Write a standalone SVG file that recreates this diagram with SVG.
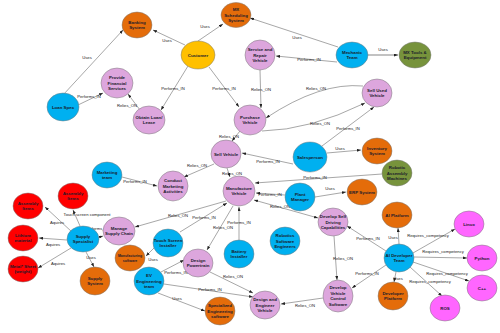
<svg xmlns="http://www.w3.org/2000/svg" width="500" height="333" viewBox="0 0 500 333">
<style>
.n ellipse{stroke:#7a7a7a;stroke-width:0.5}
.pk{fill:#DDA6DD}.bl{fill:#00B0F0}.or{fill:#E46C0A}.ye{fill:#FFC000}.gr{fill:#77933C}.rd{fill:#FF0000}.mg{fill:#FF66FF}
.n text{font-family:"Liberation Sans",Arial,sans-serif;font-size:4.4px;font-weight:bold;fill:#1a1a2a;text-anchor:middle}
.e line,.e path{stroke:#3a3a3a;stroke-width:0.45;fill:none;marker-end:url(#ah)}
.l text{font-family:"Liberation Sans",Arial,sans-serif;font-size:4.2px;fill:#222;text-anchor:middle}
</style>
<defs>
<marker id="ah" markerUnits="userSpaceOnUse" markerWidth="4" markerHeight="3" refX="4" refY="1.5" orient="auto-start-reverse"><path d="M0,0 L4,1.5 L0,3 z" fill="#222"/></marker>
</defs>
<rect width="500" height="333" fill="#fff"/>
<g id="connectors">
<g class="e">
<line x1="63" y1="95" x2="123" y2="30"/>
<line x1="78" y1="105" x2="103" y2="93"/>
<line x1="140" y1="110" x2="128" y2="94"/>
<line x1="185" y1="45" x2="153" y2="30"/>
<line x1="198" y1="41" x2="223" y2="24"/>
<line x1="188" y1="66" x2="161" y2="110"/>
<line x1="209" y1="67" x2="239" y2="107"/>
<line x1="260" y1="70" x2="261" y2="108"/>
<line x1="338" y1="47" x2="250" y2="18"/>
<line x1="337" y1="62" x2="276" y2="56"/>
<line x1="368" y1="55" x2="398" y2="55" style="stroke:#a8a8a8;stroke-width:1.4"/>
<path d="M363,86 Q320,82 266,118"/>
<path d="M262,131 Q310,130 365,103"/>
<line x1="322" y1="146" x2="374" y2="107"/>
<line x1="327" y1="153" x2="361" y2="150"/>
<line x1="240" y1="131" x2="232" y2="141"/>
<line x1="293" y1="164" x2="242" y2="153"/>
<line x1="214" y1="164" x2="184" y2="177"/>
<line x1="227" y1="168" x2="230" y2="177"/>
<line x1="122" y1="177" x2="157" y2="186"/>
<line x1="382" y1="174" x2="255" y2="183"/>
<line x1="285" y1="195" x2="256" y2="193"/>
<line x1="315" y1="197" x2="346" y2="192"/>
<line x1="254" y1="200" x2="318" y2="218" style="marker-start:url(#ah)"/>
<line x1="226" y1="201" x2="135" y2="227"/>
<line x1="180" y1="232" x2="227" y2="203"/>
<line x1="233" y1="206" x2="207" y2="250"/>
<line x1="239" y1="240" x2="239" y2="207"/>
<line x1="97" y1="238" x2="103" y2="236"/>
<line x1="80" y1="226" x2="73" y2="210"/>
<line x1="72" y1="232" x2="45" y2="207"/>
<line x1="67" y1="240" x2="39" y2="238"/>
<line x1="71" y1="248" x2="38" y2="268"/>
<line x1="86" y1="252" x2="94" y2="267"/>
<line x1="155" y1="247" x2="146" y2="256"/>
<line x1="161" y1="272" x2="184" y2="260"/>
<line x1="164" y1="284" x2="253" y2="297"/>
<line x1="158" y1="293" x2="205" y2="311"/>
<line x1="210" y1="272" x2="253" y2="293"/>
<line x1="323" y1="298" x2="281" y2="304"/>
<line x1="334" y1="236" x2="337" y2="280"/>
<line x1="386" y1="251" x2="347" y2="226"/>
<line x1="386" y1="265" x2="352" y2="288"/>
<line x1="399" y1="244" x2="398" y2="228"/>
<line x1="396" y1="272" x2="394" y2="282"/>
<line x1="413" y1="253" x2="455" y2="229"/>
<line x1="414" y1="257" x2="467" y2="258"/>
<line x1="413" y1="262" x2="469" y2="281"/>
<line x1="410" y1="267" x2="442" y2="296"/>
</g>
<g class="l">
<text x="87" y="58.5">Uses</text>
<text x="89" y="97.5">Performs_IN</text>
<text x="127" y="106.5">Relies_ON</text>
<text x="167" y="41.5">Uses</text>
<text x="205" y="27.5">Uses</text>
<text x="173" y="89.5">Performs_IN</text>
<text x="224" y="89.5">Performs_IN</text>
<text x="261" y="90.5">Relies_ON</text>
<text x="297" y="38.5">Uses</text>
<text x="309" y="60.5">Performs_IN</text>
<text x="383" y="51">Uses</text>
<text x="316" y="89.5">Relies_ON</text>
<text x="320" y="124.5">Relies_ON</text>
<text x="348" y="129.5">Performs_IN</text>
<text x="340" y="150">Uses</text>
<text x="229" y="137.5">Relies_ON</text>
<text x="268" y="162.5">Performs_IN</text>
<text x="197" y="166.5">Relies_ON</text>
<text x="232" y="174.5">Relies_ON</text>
<text x="135" y="182.5">Performs_IN</text>
<text x="315" y="178.5">Performs_IN</text>
<text x="270" y="195.5">Performs_IN</text>
<text x="330" y="190">Uses</text>
<text x="280" y="207.5">Relies_ON</text>
<text x="178" y="216.5">Relies_ON</text>
<text x="204" y="218.5">Performs_IN</text>
<text x="223" y="228.5">Relies_ON</text>
<text x="239" y="223.5">Performs_IN</text>
<text x="97" y="229.5">Performs_IN</text>
<text x="87" y="215.5">Touch screen component</text>
<text x="57" y="223.5">Aquires</text>
<text x="53" y="245.5">Aquires</text>
<text x="58" y="264.5">Aquires</text>
<text x="91" y="258.5">Uses</text>
<text x="153" y="260.5">Uses</text>
<text x="176" y="273.5">Performs_IN</text>
<text x="210" y="290.5">Performs_IN</text>
<text x="177" y="299.5">Uses</text>
<text x="233" y="277.5">Relies_ON</text>
<text x="305" y="306.5">Relies_ON</text>
<text x="343" y="259.5">Relies_ON</text>
<text x="368" y="239.5">Performs_IN</text>
<text x="367" y="274.5">Performs_IN</text>
<text x="393" y="238.5">Uses</text>
<text x="398" y="279.5">Uses</text>
<text x="428" y="236.5">Requires_competency</text>
<text x="443" y="252.5">Requires_competency</text>
<text x="447" y="274.5">Requires_competency</text>
<text x="430" y="282.5">Requires_competency</text>
</g>
</g>
<g id="n-banking" class="n"><ellipse class="or" cx="137" cy="25" rx="15" ry="13"/><text x="137" y="23.8">Banking<tspan x="137" dy="5.6">System</tspan></text></g>
<g id="n-mxsched" class="n"><ellipse class="or" cx="236" cy="15" rx="15" ry="12.5"/><text x="236" y="11">MX<tspan x="236" dy="5.6">Scheduling</tspan><tspan x="236" dy="5.6">System</tspan></text></g>
<g id="n-customer" class="n"><ellipse class="ye" cx="198" cy="55" rx="17" ry="14"/><text x="198" y="56.6">Customer</text></g>
<g id="n-service" class="n"><ellipse class="pk" cx="260" cy="55" rx="15" ry="15"/><text x="260" y="51">Service and<tspan x="260" dy="5.6">Repair</tspan><tspan x="260" dy="5.6">Vehicle</tspan></text></g>
<g id="n-mechanic" class="n"><ellipse class="bl" cx="352" cy="55" rx="16" ry="13"/><text x="352" y="53.8">Mechanic<tspan x="352" dy="5.6">Team</tspan></text></g>
<g id="n-mxtools" class="n"><ellipse class="gr" cx="415" cy="55" rx="16" ry="13"/><text x="415" y="53.8">MX Tools &amp;<tspan x="415" dy="5.6">Equipment</tspan></text></g>
<g id="n-provide" class="n"><ellipse class="pk" cx="117" cy="83" rx="16" ry="15"/><text x="117" y="79">Provide<tspan x="117" dy="5.6">Financial</tspan><tspan x="117" dy="5.6">Services</tspan></text></g>
<g id="n-loanspec" class="n"><ellipse class="bl" cx="63" cy="107" rx="16" ry="14"/><text x="63" y="108.6">Loan Spec</text></g>
<g id="n-obtain" class="n"><ellipse class="pk" cx="149" cy="120" rx="16" ry="14"/><text x="149" y="118.8">Obtain Loan/<tspan x="149" dy="5.6">Lease</tspan></text></g>
<g id="n-purchase" class="n"><ellipse class="pk" cx="250" cy="120" rx="16" ry="15"/><text x="250" y="118.8">Purchase<tspan x="250" dy="5.6">Vehicle</tspan></text></g>
<g id="n-sellused" class="n"><ellipse class="pk" cx="377" cy="93" rx="15" ry="14"/><text x="377" y="91.8">Sell Used<tspan x="377" dy="5.6">Vehicle</tspan></text></g>
<g id="n-sell" class="n"><ellipse class="pk" cx="226" cy="154" rx="15" ry="14"/><text x="226" y="155.6">Sell Vehicle</text></g>
<g id="n-salesperson" class="n"><ellipse class="bl" cx="310" cy="157" rx="17" ry="15"/><text x="310" y="158.6">Salesperson</text></g>
<g id="n-inventory" class="n"><ellipse class="or" cx="377" cy="151" rx="15" ry="13"/><text x="377" y="149.8">Inventory<tspan x="377" dy="5.6">System</tspan></text></g>
<g id="n-robotic" class="n"><ellipse class="gr" cx="397" cy="173" rx="15" ry="13"/><text x="397" y="169">Robotic<tspan x="397" dy="5.6">Assembly</tspan><tspan x="397" dy="5.6">Machines</tspan></text></g>
<g id="n-marketing" class="n"><ellipse class="bl" cx="107" cy="175" rx="15" ry="13"/><text x="107" y="173.8">Marketing<tspan x="107" dy="5.6">team</tspan></text></g>
<g id="n-conduct" class="n"><ellipse class="pk" cx="173" cy="186" rx="15" ry="15"/><text x="173" y="182">Conduct<tspan x="173" dy="5.6">Marketing</tspan><tspan x="173" dy="5.6">Activities</tspan></text></g>
<g id="n-manufacture" class="n"><ellipse class="pk" cx="239" cy="191" rx="16" ry="15"/><text x="239" y="189.8">Manufacture<tspan x="239" dy="5.6">Vehicle</tspan></text></g>
<g id="n-plant" class="n"><ellipse class="bl" cx="300" cy="197" rx="15" ry="14"/><text x="300" y="195.8">Plant<tspan x="300" dy="5.6">Manager</tspan></text></g>
<g id="n-erp" class="n"><ellipse class="or" cx="362" cy="192" rx="15" ry="13"/><text x="362" y="193.6">ERP System</text></g>
<g id="n-selfdriving" class="n"><ellipse class="pk" cx="333" cy="222" rx="15" ry="14"/><text x="333" y="218">Develop Self<tspan x="333" dy="5.6">Driving</tspan><tspan x="333" dy="5.6">Capabilities</tspan></text></g>
<g id="n-aiplatform" class="n"><ellipse class="or" cx="397" cy="215" rx="15" ry="13"/><text x="397" y="216.6">AI Platform</text></g>
<g id="n-linux" class="n"><ellipse class="mg" cx="469" cy="224" rx="15" ry="13"/><text x="469" y="225.6">Linux</text></g>
<g id="n-assembly1" class="n"><ellipse class="rd" cx="73" cy="196" rx="15" ry="13"/><text x="73" y="194.8">Assembly<tspan x="73" dy="5.6">Items</tspan></text></g>
<g id="n-assembly2" class="n"><ellipse class="rd" cx="28" cy="206" rx="15" ry="13"/><text x="28" y="204.8">Assembly<tspan x="28" dy="5.6">Items</tspan></text></g>
<g id="n-lithium" class="n"><ellipse class="rd" cx="23" cy="238" rx="15" ry="13"/><text x="23" y="236.8">Lithium<tspan x="23" dy="5.6">material</tspan></text></g>
<g id="n-metal" class="n"><ellipse class="rd" cx="23" cy="269" rx="15" ry="13"/><text x="23" y="267.8">Metal* Sheet<tspan x="23" dy="5.6">(weight)</tspan></text></g>
<g id="n-supplyspec" class="n"><ellipse class="bl" cx="83" cy="239" rx="16" ry="13"/><text x="83" y="237.8">Supply<tspan x="83" dy="5.6">Specialist</tspan></text></g>
<g id="n-managesupply" class="n"><ellipse class="pk" cx="119" cy="231" rx="16" ry="14"/><text x="119" y="229.8">Manage<tspan x="119" dy="5.6">Supply Chain</tspan></text></g>
<g id="n-supplysys" class="n"><ellipse class="or" cx="95" cy="281" rx="15" ry="14"/><text x="95" y="279.8">Supply<tspan x="95" dy="5.6">System</tspan></text></g>
<g id="n-mfgsoftware" class="n"><ellipse class="or" cx="130" cy="258" rx="15" ry="13"/><text x="130" y="257" style="font-size:3.5px">Manufacturing<tspan x="130" dy="4.6">software</tspan></text></g>
<g id="n-touchscreen" class="n"><ellipse class="bl" cx="168" cy="243" rx="15" ry="14"/><text x="168" y="241.8">Touch Screen<tspan x="168" dy="5.6">Installer</tspan></text></g>
<g id="n-ev" class="n"><ellipse class="bl" cx="149" cy="281" rx="15" ry="14"/><text x="149" y="277">EV<tspan x="149" dy="5.6">Engineering</tspan><tspan x="149" dy="5.6">team</tspan></text></g>
<g id="n-powertrain" class="n"><ellipse class="pk" cx="198" cy="263" rx="15" ry="14"/><text x="198" y="261.8">Design<tspan x="198" dy="5.6">Powertrain</tspan></text></g>
<g id="n-battery" class="n"><ellipse class="bl" cx="239" cy="254" rx="15" ry="14"/><text x="239" y="252.8">Battery<tspan x="239" dy="5.6">Installer</tspan></text></g>
<g id="n-robsoft" class="n"><ellipse class="bl" cx="285" cy="241" rx="15" ry="14"/><text x="285" y="237">Robotics<tspan x="285" dy="5.6">Software</tspan><tspan x="285" dy="5.6">Engineers</tspan></text></g>
<g id="n-designeng" class="n"><ellipse class="pk" cx="265" cy="305" rx="15" ry="14"/><text x="265" y="301">Design and<tspan x="265" dy="5.6">Engineer</tspan><tspan x="265" dy="5.6">Vehicle</tspan></text></g>
<g id="n-specsoft" class="n"><ellipse class="or" cx="220" cy="311" rx="15" ry="14"/><text x="220" y="307">Specialized<tspan x="220" dy="5.6">Engineering</tspan><tspan x="220" dy="5.6">software</tspan></text></g>
<g id="n-vehcontrol" class="n"><ellipse class="pk" cx="338" cy="296" rx="15" ry="16"/><text x="338" y="289.2">Develop<tspan x="338" dy="5.6">Vehicle</tspan><tspan x="338" dy="5.6">Control</tspan><tspan x="338" dy="5.6">Software</tspan></text></g>
<g id="n-aidev" class="n"><ellipse class="bl" cx="399" cy="258" rx="15" ry="14"/><text x="399" y="256.8">AI Developer<tspan x="399" dy="5.6">Team</tspan></text></g>
<g id="n-devplatform" class="n"><ellipse class="or" cx="393" cy="296" rx="15" ry="14"/><text x="393" y="294.8">Developer<tspan x="393" dy="5.6">Platform</tspan></text></g>
<g id="n-python" class="n"><ellipse class="mg" cx="482" cy="258" rx="15" ry="13"/><text x="482" y="259.6">Python</text></g>
<g id="n-cpp" class="n"><ellipse class="mg" cx="482" cy="288" rx="15" ry="13"/><text x="482" y="289.6">C++</text></g>
<g id="n-ros" class="n"><ellipse class="mg" cx="445" cy="308" rx="15" ry="13"/><text x="445" y="309.6">ROS</text></g>
</svg>
